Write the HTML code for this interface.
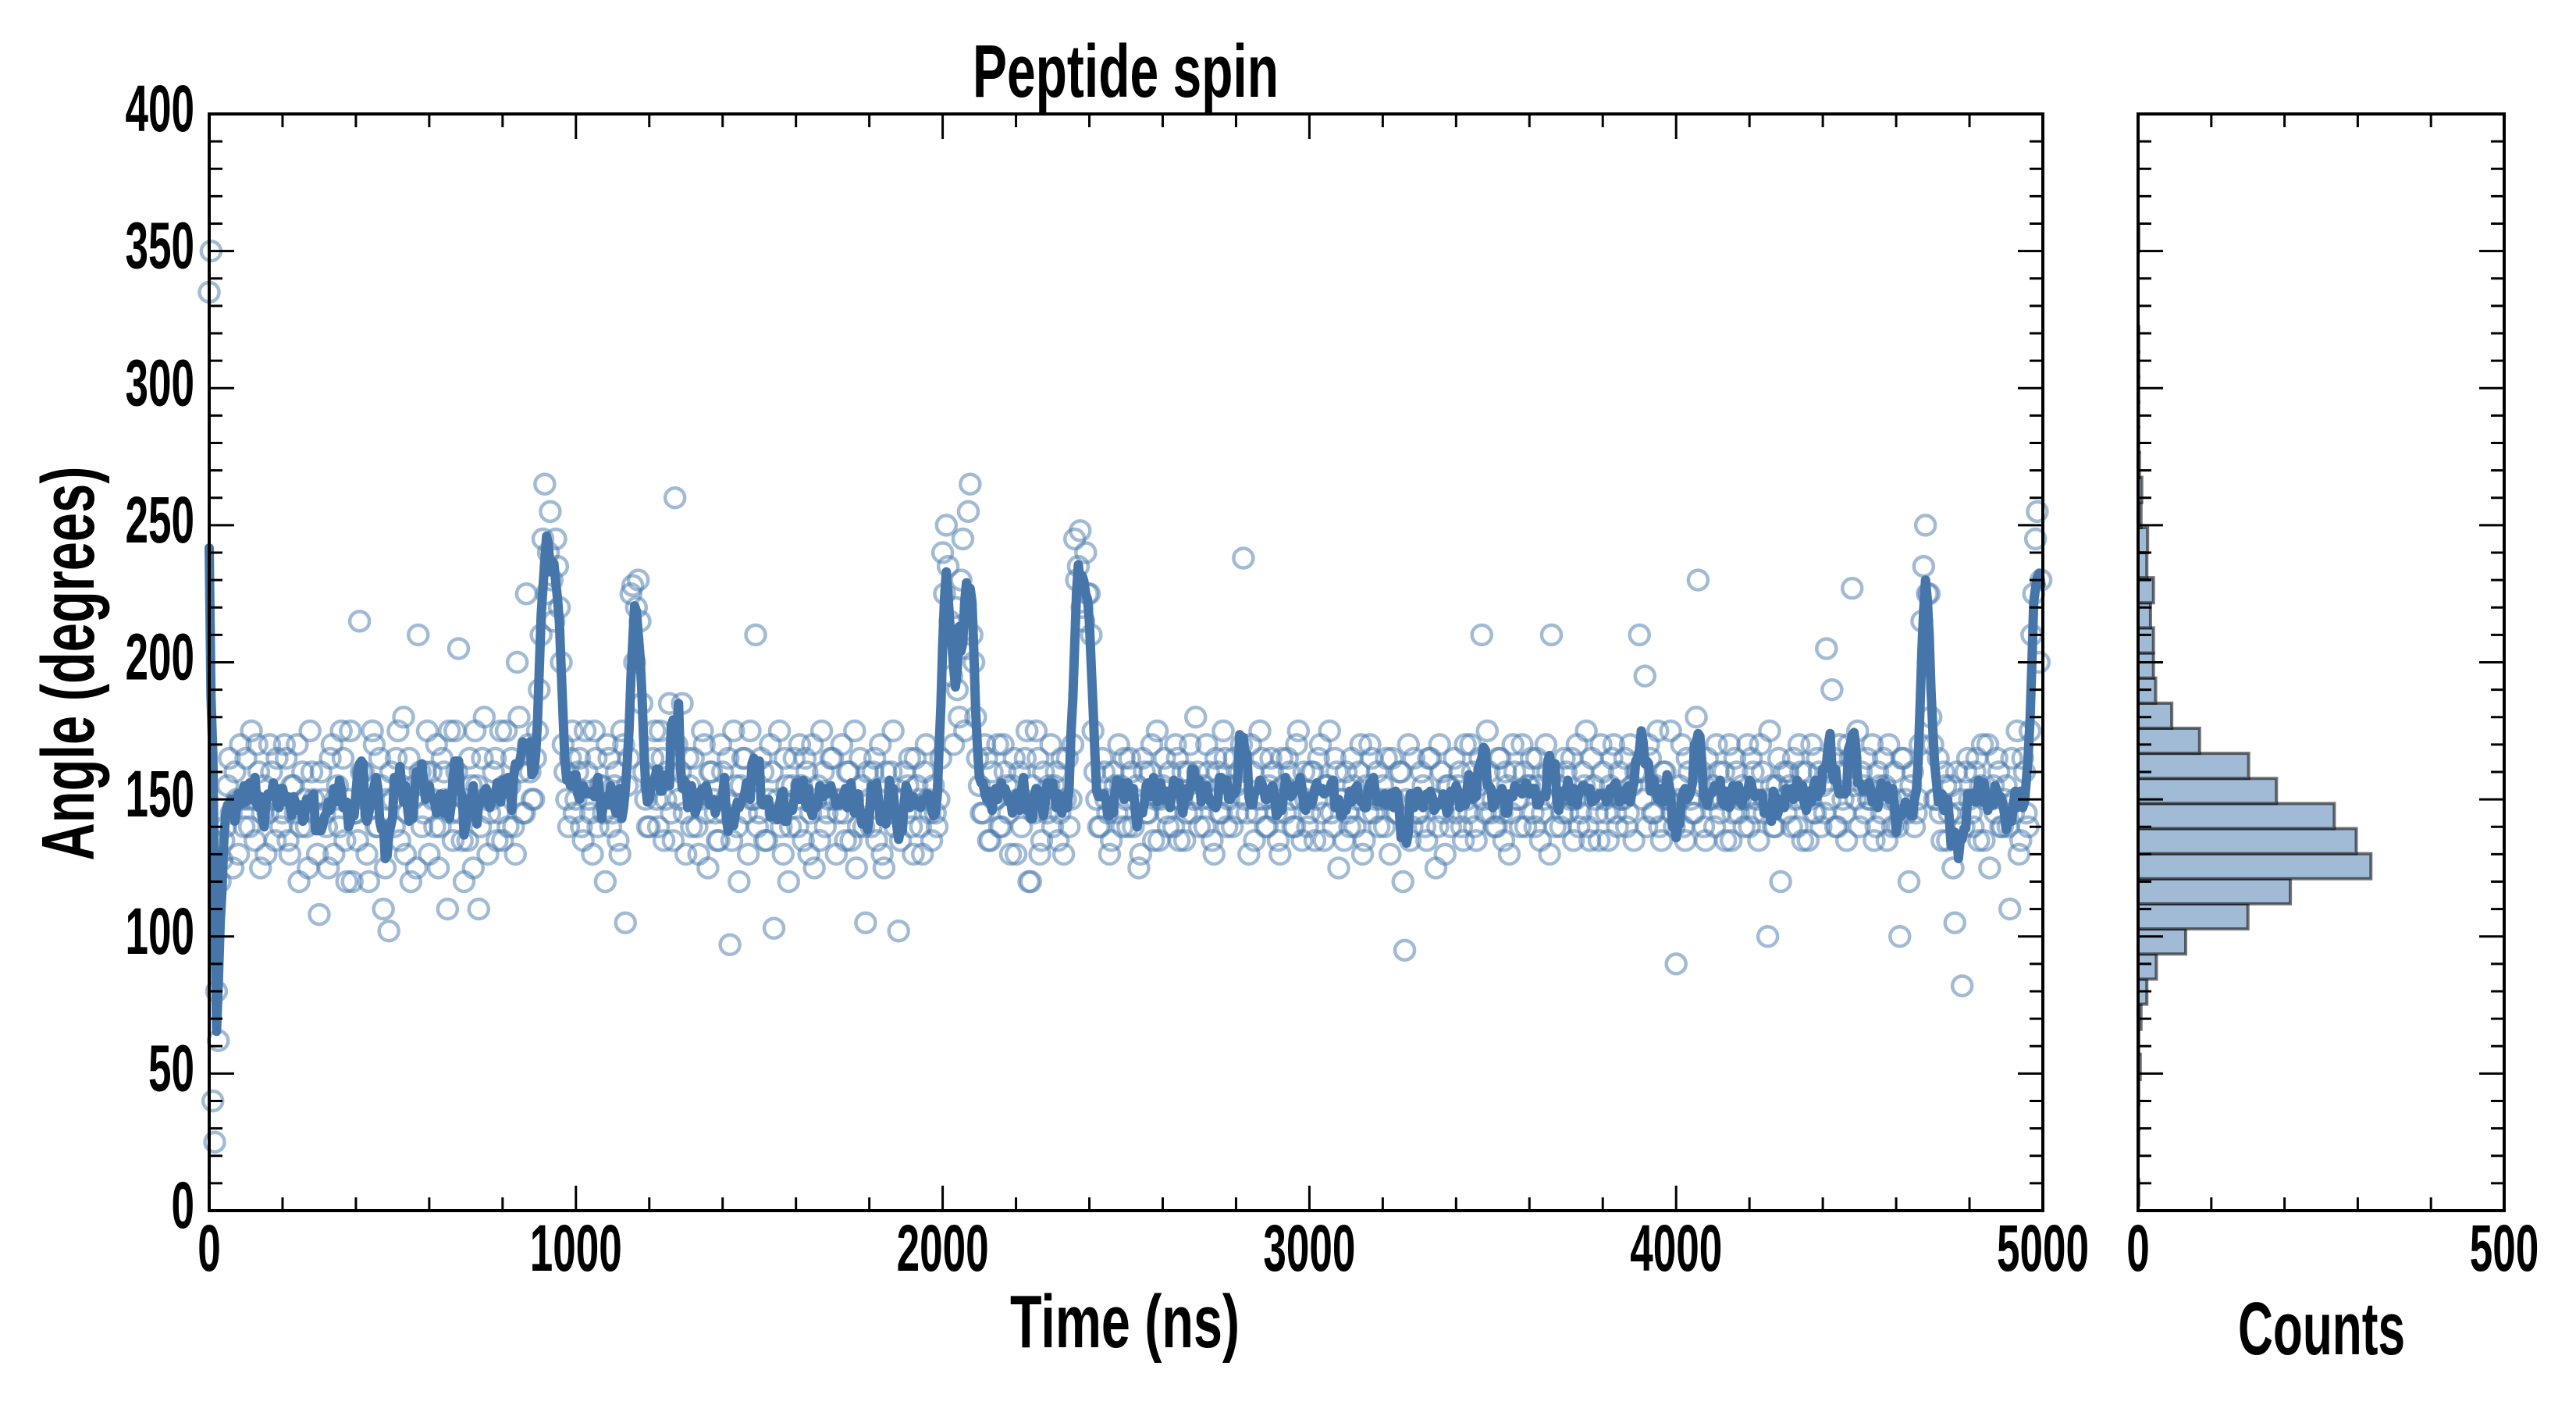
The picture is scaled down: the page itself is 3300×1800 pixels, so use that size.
<!DOCTYPE html>
<html><head><meta charset="utf-8"><style>
html,body{margin:0;padding:0;background:#fff;}
svg{display:block;}
text{font-family:"Liberation Sans Narrow","Liberation Sans",sans-serif;font-weight:bold;fill:#000;}
</style></head><body>
<svg id="chart" width="3300" height="1800" viewBox="0 0 3300 1800" xmlns="http://www.w3.org/2000/svg">
<g id="main"></g>
<g id="hist"></g>
<text x="1442" y="124" font-size="96" text-anchor="middle" textLength="392" lengthAdjust="spacingAndGlyphs">Peptide spin</text>
<text x="1441" y="1726" font-size="96" text-anchor="middle" textLength="294" lengthAdjust="spacingAndGlyphs">Time (ns)</text>
<text x="2974" y="1735" font-size="96" text-anchor="middle" textLength="214" lengthAdjust="spacingAndGlyphs">Counts</text>
<text transform="translate(120,850) rotate(-90)" font-size="96" text-anchor="middle" textLength="505" lengthAdjust="spacingAndGlyphs">Angle (degrees)</text>
</svg>
<script>
// ---- data ----
const timeStep = 10; // ns between samples in each array
const angleValues = [
335,40,80,120,135,155,145,160,130,150,
165,140,150,170,125,155,145,160,135,150,
145,165,130,155,170,140,150,125,160,145,
108,150,140,165,130,155,175,135,150,120,
145,215,160,130,150,170,140,155,125,102,
150,165,135,180,145,120,155,210,140,160,
130,150,170,140,160,110,145,175,205,135,
150,165,125,155,140,180,130,150,165,145,
135,175,155,140,200,160,145,170,150,165,
190,245,225,255,215,235,200,160,140,175,
150,165,135,160,145,175,140,155,120,165,
145,160,130,170,155,225,200,230,185,150,
140,165,150,175,135,160,145,260,150,185,
130,155,165,140,150,170,125,160,145,135,
160,150,97,175,140,155,165,130,150,210,
145,160,135,170,103,150,140,165,120,155,
150,170,135,160,145,125,155,175,140,150,
165,130,150,145,160,135,175,140,155,105,
150,160,135,170,125,145,160,140,102,150,
145,165,130,155,140,160,150,135,145,150,
240,250,215,170,190,230,175,255,210,180,
155,145,165,135,150,170,140,160,145,155,
130,160,150,175,120,145,165,135,150,155,
140,160,145,130,165,150,245,235,220,240,
225,175,150,140,160,145,135,155,170,140,
150,165,140,155,130,160,145,170,150,135,
155,145,160,140,165,150,135,160,145,180,
140,155,170,150,130,160,145,165,150,140,
155,160,238,145,170,135,150,165,140,155,
160,145,130,155,165,150,140,175,135,150,
145,160,150,170,135,155,145,165,125,150,
160,140,155,150,170,135,145,165,150,140,
155,165,130,150,145,160,95,170,140,150,
145,155,135,165,150,140,160,130,155,150,
145,160,135,150,170,140,155,210,145,160,
150,140,165,135,155,145,160,150,170,140,
155,145,165,135,150,160,210,140,155,145,
160,150,135,170,145,155,140,165,150,135,
160,145,155,170,140,150,165,145,155,160,
210,150,140,165,145,175,135,160,150,145,
90,155,140,165,150,145,230,160,135,150,
155,170,145,160,150,135,165,145,155,150,
140,160,150,170,145,100,155,140,165,150,
145,155,165,140,160,150,135,170,145,160,
155,205,150,165,140,160,145,170,227,150,
140,155,165,150,135,160,145,155,170,140,
150,100,165,145,155,140,150,215,250,225,
170,150,145,160,135,155,105,145,82,160,
150,140,165,155,135,170,150,145,160,140,
155,110,145,175,135,160,140,210,245,200
];
// samples offset by half a step (t = 5, 15, 25, ...)
const angleValuesOffset = [
350,25,62,128,140,165,125,150,170,140,
150,175,135,160,145,130,170,150,165,140,
170,135,155,145,120,160,140,175,150,130,
160,145,125,170,150,140,165,120,175,145,
135,160,150,120,175,140,165,110,150,160,
140,175,155,130,165,150,125,160,145,175,
160,140,125,165,150,175,135,160,145,120,
135,155,175,110,165,150,145,160,135,175,
155,140,165,130,180,145,225,160,150,175,
210,265,240,230,245,220,170,150,165,145,
160,140,175,150,130,165,155,145,170,140,
155,135,175,105,165,228,220,215,160,140,
155,175,140,165,150,185,135,170,160,145,
165,140,150,130,175,145,160,150,135,170,
145,165,135,155,120,165,145,175,150,140,
165,135,150,160,145,175,130,155,140,165,
140,155,165,130,170,150,135,160,145,165,
150,145,170,135,160,150,125,165,140,160,
140,165,150,130,160,145,175,150,135,160,
155,140,165,150,130,170,145,155,140,165,
225,235,195,220,180,245,205,265,200,165,
145,170,135,160,150,140,170,155,130,165,
150,140,165,120,155,175,130,160,145,170,
155,135,165,150,140,170,230,248,215,225,
210,160,140,165,150,130,160,145,155,165,
140,160,150,125,165,145,160,135,175,150,
165,140,150,170,135,160,145,170,150,160,
150,140,160,135,165,145,175,140,155,165,
145,170,150,130,160,145,175,150,140,165,
150,135,165,145,160,140,170,150,160,140,
160,135,165,145,155,175,140,160,150,135,
145,165,140,160,130,155,170,145,160,150,
140,150,165,145,160,120,150,135,165,145,
160,140,165,150,125,170,145,155,140,165,
155,140,170,145,160,135,165,150,175,145,
140,165,145,160,130,170,150,140,160,155,
165,140,155,145,170,130,160,150,140,165,
145,165,150,140,160,175,135,155,145,170,
150,135,165,145,160,150,140,170,135,160,
160,195,170,145,155,140,160,150,175,140,
150,170,135,160,145,180,155,140,165,150,
140,160,150,135,170,145,160,150,140,170,
165,145,135,160,150,175,140,155,120,160,
160,140,150,170,135,160,150,145,165,140,
145,160,190,140,170,150,135,165,155,175,
160,145,150,170,140,155,165,135,150,160,
140,165,150,120,160,145,170,235,225,180,
150,165,135,155,145,125,160,150,140,165,
145,160,135,170,150,125,155,165,140,150,
140,165,150,130,165,145,175,225,255,230
];
const histBinStart = 2.1;
const histBinWidth = 9.15;
const histCounts = [1,0,1,1,1,3,1,4,12,25,65,150,208,318,298,268,189,151,84,46,24,21,21,17,21,12,13,4,5,2,1,1,1,1,1,0,0,0,1];
const xTicks = [0,1000,2000,3000,4000,5000];
const yTicks = [0,50,100,150,200,250,300,350,400];
const histTicks = [0,500];

// ---- geometry ----
const NS='http://www.w3.org/2000/svg';
const L=268,R=2617,T=146,B=1551,HL=2739,HR=3208;
const X=v=>L+(v/5000)*(R-L);
const Y=v=>B-(v/400)*(B-T);
const HX=c=>HL+(c/500)*(HR-HL);
function mk(tag,attrs,parent){const e=document.createElementNS(NS,tag);for(const k in attrs)e.setAttribute(k,attrs[k]);parent.appendChild(e);return e;}
const main=document.getElementById('main'), hist=document.getElementById('hist');

// combined time series
const series=[];
angleValues.forEach((v,i)=>{
  series.push([i*timeStep,v]);
  if(i<angleValuesOffset.length) series.push([i*timeStep+timeStep/2,angleValuesOffset[i]]);
});

// scatter
const sg=mk('g',{},main);


series.forEach(p=>{
  const c=mk('circle',{cx:X(p[0]),cy:Y(p[1]),r:12.5,fill:'none',stroke:'rgba(70,120,172,0.5)','stroke-width':4.5},sg);
  
  
});
// smoothed line (rolling mean of data)
const pts=[];
series.forEach((p,i)=>{
  let s=0,n=0;
  for(let k=Math.max(0,i-2);k<=Math.min(series.length-1,i+2);k++){s+=series[k][1];n++;}
  pts.push(X(p[0]).toFixed(1)+','+Y(s/n).toFixed(1));
});
const ln=mk('polyline',{points:pts.join(' '),fill:'none',stroke:'#4676a9','stroke-width':12,'stroke-linejoin':'round','stroke-linecap':'round'},main);



// histogram bars
histCounts.forEach((c,i)=>{
  if(c<=0)return;
  const lo=histBinStart+i*histBinWidth, hi=lo+histBinWidth;
  const r=mk('rect',{x:HL,y:Y(hi),width:HX(c)-HL,height:Y(lo)-Y(hi),fill:'#a1bad5',stroke:'rgba(0,0,0,0.55)','stroke-width':4},hist);
  
  
});

// axes frames & ticks
function frame(g,x0,x1){
  const f=mk('rect',{x:x0,y:T,width:x1-x0,height:B-T,fill:'none',stroke:'#000','stroke-width':4},g);
  
  
  for(let v=0;v<=400;v+=10){
    const len=(v%50===0)?32:17;const y=Y(v);
    mk('line',{x1:x0,x2:x0+len,y1:y,y2:y,stroke:'#000','stroke-width':3},g);
    mk('line',{x1:x1,x2:x1-len,y1:y,y2:y,stroke:'#000','stroke-width':3},g);
  }
}
frame(main,L,R);frame(hist,HL,HR);
for(let v=0;v<=5000;v+=200){
  const len=(v%1000===0)?32:17;const x=X(v);
  mk('line',{x1:x,x2:x,y1:B,y2:B-len,stroke:'#000','stroke-width':3},main);
  mk('line',{x1:x,x2:x,y1:T,y2:T+len,stroke:'#000','stroke-width':3},main);
}
for(let c=0;c<=500;c+=100){
  const len=(c%500===0)?32:17;const x=HX(c);
  mk('line',{x1:x,x2:x,y1:B,y2:B-len,stroke:'#000','stroke-width':3},hist);
  mk('line',{x1:x,x2:x,y1:T,y2:T+len,stroke:'#000','stroke-width':3},hist);
}
// tick labels
xTicks.forEach(v=>{
  const t=mk('text',{x:X(v),y:1628,'font-size':84,'text-anchor':'middle',textLength:(String(v).length*29.5),lengthAdjust:'spacingAndGlyphs'},main);
  t.textContent=v;
  
  
});
yTicks.forEach(v=>{
  const t=mk('text',{x:249,y:Y(v)+22,'font-size':84,'text-anchor':'end',textLength:(String(v).length*29.5),lengthAdjust:'spacingAndGlyphs'},main);
  t.textContent=v;
  
  
});
histTicks.forEach(v=>{
  const t=mk('text',{x:HX(v),y:1628,'font-size':84,'text-anchor':'middle',textLength:(String(v).length*29.5),lengthAdjust:'spacingAndGlyphs'},hist);
  t.textContent=v;
  
  
});
</script>
</body></html>
